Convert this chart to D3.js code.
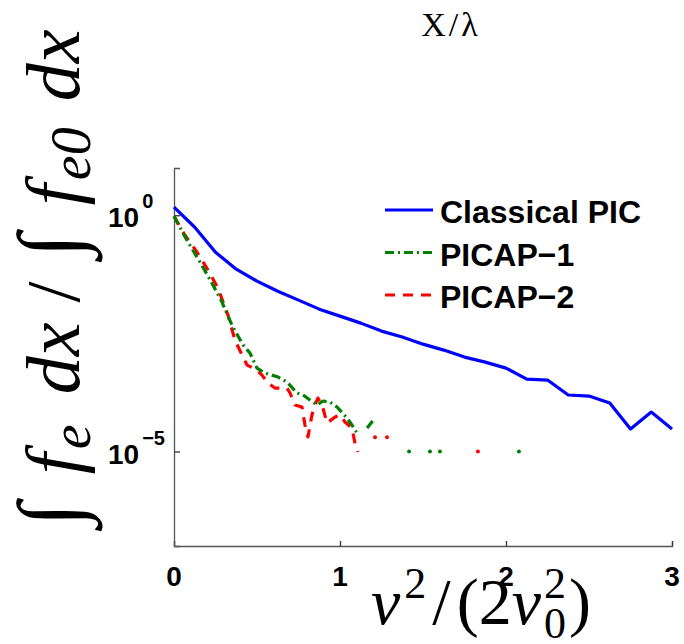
<!DOCTYPE html>
<html>
<head>
<meta charset="utf-8">
<script src="https://cdnjs.cloudflare.com/ajax/libs/d3/7.8.5/d3.min.js"></script>
<style>
  body { margin: 0; background: #fff; }
  svg { display: block; }
</style>
</head>
<body>
<div id="chart"></div>
<script>
// series
var classicalX = [0, 0.125, 0.25, 0.375, 0.5, 0.625, 0.75, 0.875, 1.0, 1.125, 1.25, 1.375, 1.5,
                  1.625, 1.75, 1.875, 2.0, 2.125, 2.25, 2.375, 2.5, 2.625, 2.75, 2.875, 3.0];
var classicalY = [1.48, 0.557, 0.165, 0.0721, 0.0403, 0.0247, 0.0160, 0.0103, 0.00733, 0.00521,
                  0.00353, 0.00264, 0.00187, 0.00140, 0.000995, 0.000780, 0.000582, 0.000341,
                  0.000325, 0.000157, 0.000149, 0.000106, 0.0000299, 0.0000684, 0.0000299];

var picap1X = [0, 0.078, 0.157, 0.229, 0.289, 0.349, 0.416, 0.458, 0.5, 0.548, 0.627, 0.681,
               0.741, 0.777, 0.819, 0.861, 0.898, 0.94, 0.982, 1.042, 1.072, 1.102, 1.13, 1.163, 1.211];
var picap1Y = [0.953, 0.296, 0.1014, 0.0365, 0.0145, 0.00472, 0.00179, 0.00121, 0.000582, 0.000457,
               0.000376, 0.000294, 0.000173, 0.000157, 0.000123, 0.0000962, 0.000117, 0.000111,
               0.0000873, 0.0000511, 0.0000363, 0.0000246, null, 0.0000314, 0.0000511];
var picap1DotX = [1.416, 1.542, 1.602, 2.078];
var picap1DotY = [1e-5, 1e-5, 1e-5, 1e-5];

var picap2X = [0, 0.066, 0.139, 0.205, 0.265, 0.325, 0.367, 0.416, 0.44, 0.5, 0.53, 0.566, 0.608,
               0.681, 0.699, 0.729, 0.771, 0.789, 0.807, 0.831, 0.849, 0.867, 0.892, 0.922, 0.97,
               1.0, 1.03, 1.072, 1.09, 1.108];
var picap2Y = [0.953, 0.378, 0.165, 0.0687, 0.0286, 0.00769, 0.00228, 0.000995, 0.000674, 0.000529,
               0.000414, 0.000281, 0.00022, 0.00022, 0.000173, 0.0000962, 0.0000873, 0.0000363,
               0.0000203, 0.0000591, 0.0000962, 0.000135, 0.0000962, 0.0000401, 0.0000536,
               0.0000591, 0.0000421, 0.0000314, 0.0000151, 0.0000098];
var picap2DotX = [1.211, 1.283, 1.831];
var picap2DotY = [2e-5, 2e-5, 1e-5];

var xTicks = [0, 1, 2, 3];
var yTicks = [1, 1e-5];
var yTickExp = ['0', '\u22125'];
var legendNames = ['Classical PIC', 'PICAP\u22121', 'PICAP\u22122'];

var W = 684, H = 644;
var svg = d3.select('#chart').append('svg').attr('width', W).attr('height', H);

var x = d3.scaleLinear().domain([0, 3]).range([174, 672]);
var y = d3.scaleLog().domain([1e-7, 10]).range([546, 168]);

// axes (left + bottom, ticks pointing inward)
var xAxis = d3.axisBottom(x).tickValues(xTicks).tickSize(-5).tickFormat('');
var yAxis = d3.axisLeft(y).tickValues(yTicks).tickSize(-6).tickFormat('');

var gx = svg.append('g').attr('transform', 'translate(0,546)').call(xAxis);
var gy = svg.append('g').attr('transform', 'translate(174,0)').call(yAxis);
[gx, gy].forEach(function(g) {
  g.select('.domain').attr('stroke', '#555').attr('stroke-width', 1.3);
  g.selectAll('.tick line').attr('stroke', '#333').attr('stroke-width', 1.3);
});

svg.append('g').selectAll('text').data(xTicks).enter().append('text')
  .attr('x', function(d) { return x(d); })
  .attr('y', 586)
  .attr('text-anchor', 'middle')
  .attr('font-family', 'Liberation Sans, Arial, sans-serif')
  .attr('font-weight', 'bold')
  .attr('font-size', 28)
  .text(function(d) { return d; });

var yl = svg.append('g').selectAll('text').data(yTicks).enter().append('text')
  .attr('x', 108)
  .attr('y', function(d) { return y(d) + 12; })
  .attr('font-family', 'Liberation Sans, Arial, sans-serif')
  .attr('font-weight', 'bold')
  .attr('font-size', 28);
yl.append('tspan').text('10');
yl.append('tspan').attr('font-size', 20).attr('dx', 3).attr('dy', -19)
  .text(function(d, i) { return yTickExp[i]; });

// lines
var line = d3.line()
  .defined(function(d) { return d[1] != null; })
  .x(function(d) { return x(d[0]); })
  .y(function(d) { return y(d[1]); });

var series = [
  { xs: classicalX, ys: classicalY, color: '#0000ff', dash: null },
  { xs: picap1X, ys: picap1Y, color: '#008000', dash: '9,4,2,4', dx: picap1DotX, dy: picap1DotY },
  { xs: picap2X, ys: picap2Y, color: '#ff0000', dash: '10,8', dx: picap2DotX, dy: picap2DotY }
];

var plot = svg.append('g');
series.slice().reverse().forEach(function(s) {
  plot.append('path')
    .datum(d3.zip(s.xs, s.ys))
    .attr('fill', 'none')
    .attr('stroke', s.color)
    .attr('stroke-width', 3.2)
    .attr('stroke-dasharray', s.dash)
    .attr('stroke-linejoin', 'round')
    .attr('d', line);
  if (s.dx) {
    plot.selectAll(null).data(d3.zip(s.dx, s.dy)).enter().append('circle')
      .attr('cx', function(d) { return x(d[0]); })
      .attr('cy', function(d) { return y(d[1]); })
      .attr('r', 2)
      .attr('fill', s.color);
  }
});

// legend
var leg = svg.append('g');
series.forEach(function(s, i) {
  var ly = 210 + i * 42.5;
  leg.append('line')
    .attr('x1', 385).attr('x2', 433).attr('y1', ly).attr('y2', ly)
    .attr('stroke', s.color).attr('stroke-width', 3.2)
    .attr('stroke-dasharray', s.dash);
  leg.append('text')
    .attr('x', 440).attr('y', ly + 13)
    .attr('font-family', 'Liberation Sans, Arial, sans-serif')
    .attr('font-weight', 'bold')
    .attr('font-size', 32)
    .text(legendNames[i]);
});

// title
svg.append('text')
  .attr('x', 451).attr('y', 36)
  .attr('text-anchor', 'middle')
  .attr('font-family', 'Liberation Serif, Times New Roman, serif')
  .attr('font-size', 34)
  .attr('letter-spacing', 3)
  .text('X/\u03bb');

// x label  v^2/(2 v_0^2)
var xl = svg.append('text')
  .attr('x', 481).attr('y', 624)
  .attr('text-anchor', 'middle')
  .attr('font-family', 'Liberation Serif, Times New Roman, serif')
  .attr('font-size', 66);
xl.append('tspan').attr('font-style', 'italic').text('v');
xl.append('tspan').attr('font-size', 44).attr('dy', -26).attr('dx', 4).text('2');
xl.append('tspan').attr('dy', 26).attr('dx', 6).text('/');
xl.append('tspan').attr('dx', 6).text('(2');
xl.append('tspan').attr('font-style', 'italic').text('v');
xl.append('tspan').attr('font-size', 44).attr('dy', 14).attr('dx', 3).text('0');
xl.append('tspan').attr('font-size', 44).attr('dy', -40).attr('dx', -22).text('2');
xl.append('tspan').attr('dy', 26).attr('dx', 3).text(')');

// y label  ∫ f_e dx / ∫ f_e0 dx
var ylab = svg.append('text')
  .attr('transform', 'translate(79,278) rotate(-90)')
  .attr('text-anchor', 'middle')
  .attr('font-family', 'Liberation Serif, Times New Roman, serif')
  .attr('font-size', 76);
ylab.append('tspan').attr('font-size', 88).text('\u222b');
ylab.append('tspan').attr('font-style', 'italic').attr('dx', 28).text('f');
ylab.append('tspan').attr('font-style', 'italic').attr('font-size', 56).attr('dy', 11).attr('dx', 4).text('e');
ylab.append('tspan').attr('font-style', 'italic').attr('dy', -11).attr('dx', 30).text('dx');
ylab.append('tspan').attr('dx', 20).text('/');
ylab.append('tspan').attr('font-size', 88).attr('dx', 24).text('\u222b');
ylab.append('tspan').attr('font-style', 'italic').attr('dx', 28).text('f');
ylab.append('tspan').attr('font-style', 'italic').attr('font-size', 56).attr('dy', 11).attr('dx', 4).text('e0');
ylab.append('tspan').attr('font-style', 'italic').attr('dy', -11).attr('dx', 26).text('dx');
</script>
</body>
</html>
